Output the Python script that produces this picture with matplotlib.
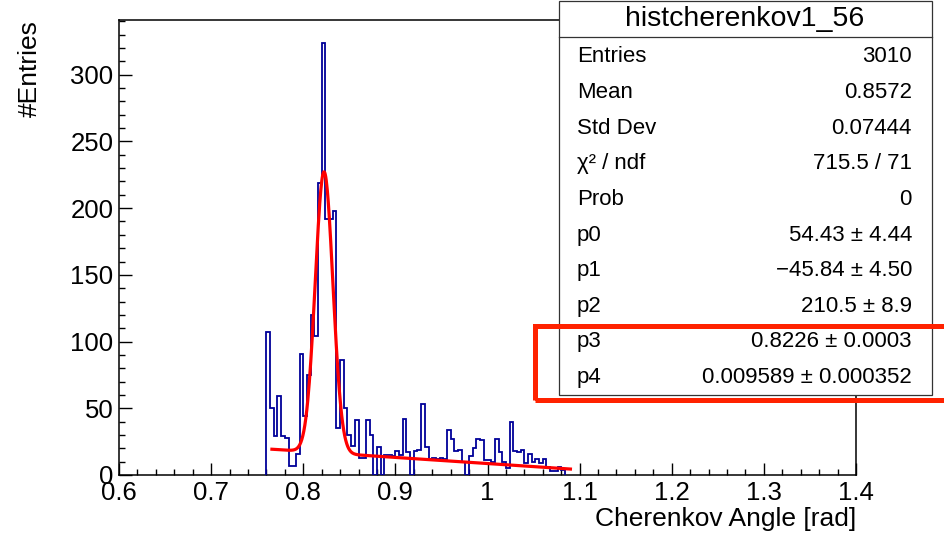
import numpy as np
import matplotlib
matplotlib.use("Agg")
import matplotlib.pyplot as plt
from matplotlib.patches import Rectangle
from matplotlib.ticker import MultipleLocator

# ── DATA ──────────────────────────────────────────────────────────────────────
bin_lo = 0.76
bin_w = 0.004
counts = [107, 50, 29, 59, 29, 28, 7, 7, 16, 91,
          44, 75, 120, 104, 219, 324, 192, 192, 198, 35,
          86, 50, 30, 22, 41, 13, 13, 41, 30, 0,
          21, 0, 15, 15, 14, 18, 15, 42, 17, 0,
          18, 19, 53, 21, 12, 13, 12, 13, 12, 34,
          27, 18, 19, 10, 0, 14, 20, 27, 26, 11,
          11, 10, 27, 17, 10, 5, 40, 18, 17, 19,
          9, 16, 10, 12, 9, 12, 6, 3, 3, 6,
          4]

# fit: pol1 + gaus
fit_pars = [54.43, -45.84, 210.5, 0.8226, 0.009589]
fit_range = (0.766, 1.09)

stat_title = "histcherenkov1_56"
stat_names = ["Entries", "Mean", "Std Dev", "χ² / ndf", "Prob",
              "p0", "p1", "p2", "p3", "p4"]
stat_values = ["3010", "0.8572", "0.07444", "715.5 / 71", "0",
               "54.43 ± 4.44", "\u221245.84 ± 4.50", "210.5 ± 8.9",
               "0.8226 ± 0.0003", "0.009589 ± 0.000352"]

# ── STYLE ─────────────────────────────────────────────────────────────────────
FONT = ["Liberation Sans", "DejaVu Sans"]
HIST = "#000099"
FIT = "#FF0000"
MARK = "#FF2200"

plt.rcParams.update({
    "font.family": FONT,
    "xtick.direction": "in",
    "ytick.direction": "in",
})

W, H = 945, 535
fig = plt.figure(figsize=(W / 100, H / 100), dpi=100)


def fx(x):
    return x / W


def fy(y):
    return 1 - y / H


ax = fig.add_axes([fx(119), fy(475), fx(856) - fx(119), fy(20) - fy(475)])

edges = bin_lo + bin_w * np.arange(len(counts) + 1)
ax.stairs(counts, edges, color=HIST, linewidth=1.3, baseline=0, zorder=3)

xf = np.linspace(fit_range[0], fit_range[1], 600)
p0, p1, p2, p3, p4 = fit_pars
yf = p0 + p1 * xf + p2 * np.exp(-0.5 * ((xf - p3) / p4) ** 2)
ax.plot(xf, yf, color=FIT, linewidth=2.3, zorder=4)

ax.set_xlim(0.6, 1.4)
ax.set_ylim(0, 341)
ax.xaxis.set_major_locator(MultipleLocator(0.1))
ax.xaxis.set_minor_locator(MultipleLocator(0.02))
ax.yaxis.set_major_locator(MultipleLocator(50))
ax.yaxis.set_minor_locator(MultipleLocator(10))
ax.xaxis.set_major_formatter(plt.FuncFormatter(lambda v, p: f"{v:g}"))
ax.tick_params(which="major", length=9, width=1.0, labelsize=18.5)
ax.tick_params(which="minor", length=4.5, width=1.0)
ax.tick_params(axis="x", pad=4)
ax.tick_params(axis="y", pad=4)
for s in ax.spines.values():
    s.set_linewidth(1.1)

fig.text(fx(30), fy(20), "#Entries", rotation=90, ha="center", va="top",
         fontsize=19)
fig.text(fx(856), fy(519), "Cherenkov Angle [rad]", ha="right", va="center",
         fontsize=19)

# stats box
box = Rectangle((fx(559), fy(395)), fx(932) - fx(559), fy(1) - fy(395),
                transform=fig.transFigure, facecolor="white",
                edgecolor="#333333", linewidth=0.9, zorder=10)
fig.add_artist(box)
fig.add_artist(plt.Line2D([fx(559), fx(932)], [fy(37), fy(37)],
                          transform=fig.transFigure, color="#333333",
                          linewidth=0.9, zorder=11))
fig.text(fx(745), fy(19), stat_title, ha="center", va="center",
         fontsize=20.5, zorder=12)
for i, (name, val) in enumerate(zip(stat_names, stat_values)):
    yb = 62.5 + 35.6 * i
    fig.text(fx(577), fy(yb), name, ha="left", va="baseline",
             fontsize=16, zorder=12)
    fig.text(fx(912), fy(yb), val, ha="right", va="baseline",
             fontsize=16, zorder=12)

# red highlight around p3 / p4
mark = Rectangle((fx(535), fy(400)), fx(960) - fx(535), fy(326) - fy(400),
                 transform=fig.transFigure, facecolor="none",
                 edgecolor=MARK, linewidth=3.6, zorder=13, clip_on=False)
fig.add_artist(mark)

fig.savefig("out.png", dpi=100)
